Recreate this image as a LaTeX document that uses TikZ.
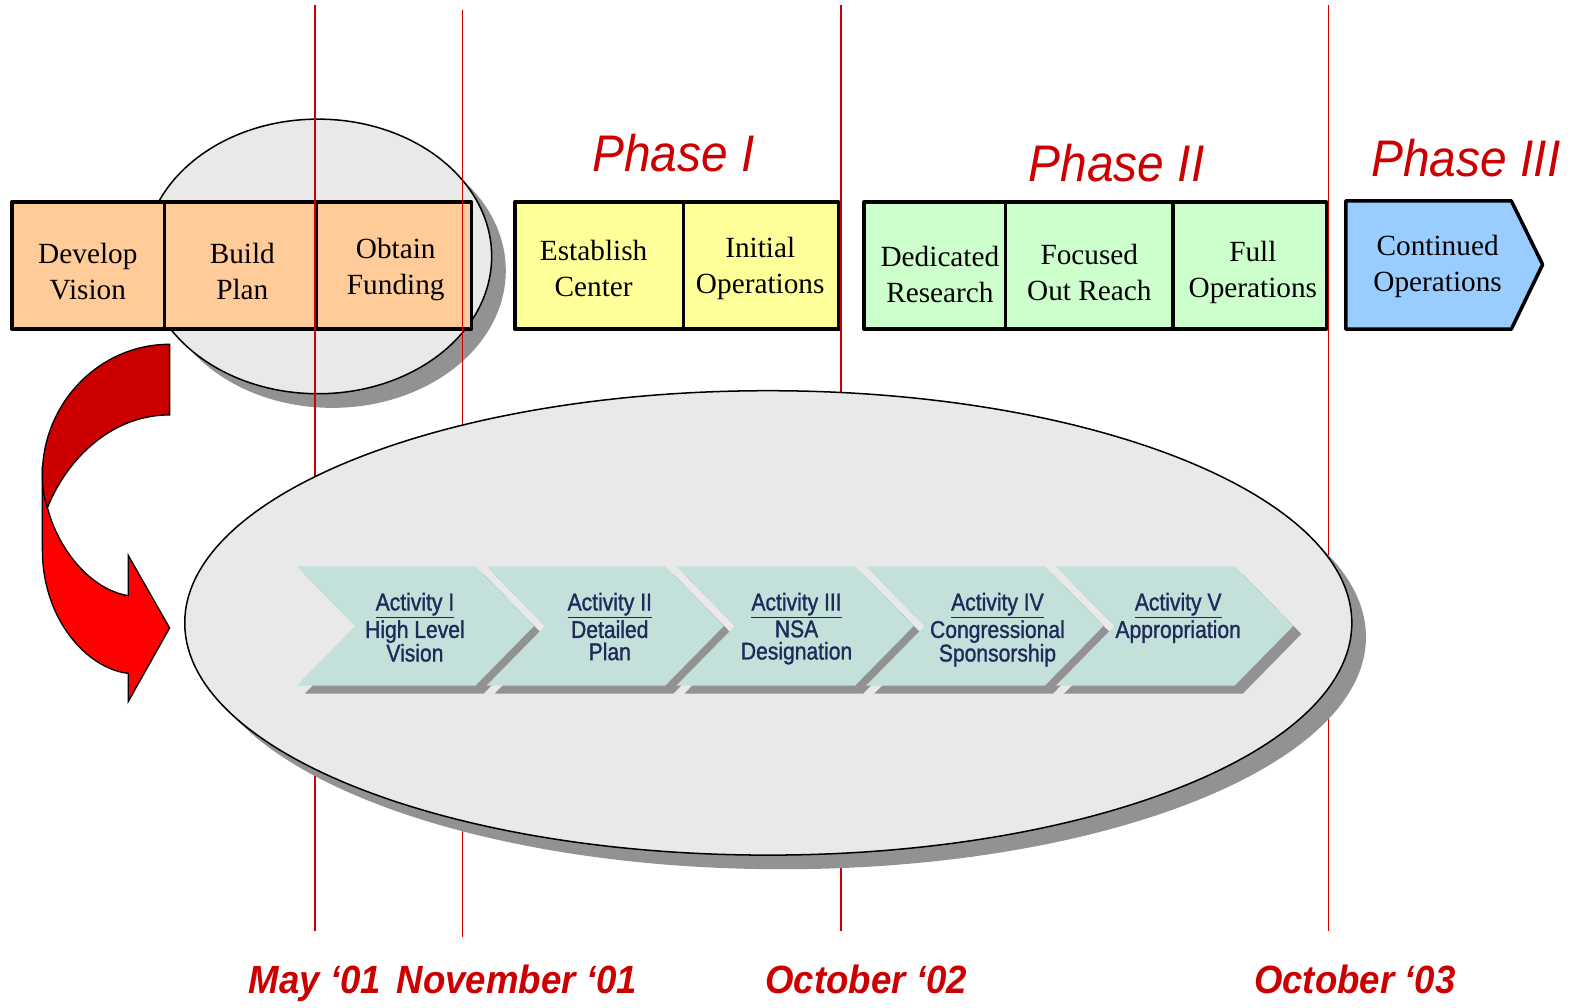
\documentclass[tikz,border=0pt]{standalone}
\usepackage{fontspec}
\setmainfont{Liberation Serif}
\newfontfamily\condsans[FakeStretch=0.93]{Liberation Sans}
\newfontfamily\narrowsans[FakeStretch=0.87,FakeBold=1.2]{Liberation Sans}
\newcommand\actul[1]{\leavevmode\vtop{\hbox{#1}\kern1.2pt\hrule height 1.7pt}}
\definecolor{lred}{HTML}{CC0000}
\definecolor{phred}{HTML}{CC0000}
\definecolor{ellfill}{HTML}{E9E9E9}
\definecolor{shad}{HTML}{929292}
\definecolor{orangefill}{HTML}{FFCC99}
\definecolor{yellowfill}{HTML}{FFFF99}
\definecolor{greenfill}{HTML}{CCFFCC}
\definecolor{bluefill}{HTML}{99CCFF}
\definecolor{chevfill}{HTML}{C4E0DA}
\definecolor{navy}{HTML}{1F2A5A}
\definecolor{darkred}{HTML}{CC0000}
\definecolor{brightred}{HTML}{FF0000}
\begin{document}
\begin{tikzpicture}[x=1pt,y=-1pt,
  phasebox/.style={draw=black,line width=3.5pt,line join=round},
  boxtext/.style={align=center,font=\fontsize{29}{35}\selectfont,inner sep=0pt},
  phaselabel/.style={text=phred,font=\fontsize{51}{60}\selectfont\condsans\itshape,inner sep=0pt},
  datelabel/.style={text=phred,font=\fontsize{39}{46}\selectfont\condsans\bfseries\itshape,inner sep=0pt,anchor=base},
  acttext/.style={text=navy,align=center,font=\fontsize{24}{22}\selectfont\narrowsans,inner sep=0pt,anchor=north},
  redline/.style={draw=lred,line width=1.6pt},
  ellipsestyle/.style={fill=ellfill,draw=black,line width=1.5pt}
]
\useasboundingbox (0,0) rectangle (1568,997.5);

% small ellipse with shadow
\fill[shad] (329,268) ellipse [x radius=172, y radius=136];
\draw[ellipsestyle] (315,254) ellipse [x radius=172, y radius=136];

% orange boxes
\draw[phasebox,fill=orangefill] (12,200) rectangle (163,326);
\draw[phasebox,fill=orangefill] (163,200) rectangle (313,326);
\draw[phasebox,fill=orangefill] (313,200) rectangle (467,326);
% yellow
\draw[phasebox,fill=yellowfill] (510,200) rectangle (677,326);
\draw[phasebox,fill=yellowfill] (677,200) rectangle (831,326);
% green
\draw[phasebox,fill=greenfill] (856,200) rectangle (996,326);
\draw[phasebox,fill=greenfill] (996,200) rectangle (1162,326);
\draw[phasebox,fill=greenfill] (1162,200) rectangle (1314,326);
% blue arrow box
\draw[phasebox,fill=bluefill] (1333,199) -- (1497,199) -- (1528,262) -- (1497,326) -- (1333,326) -- cycle;

\node[boxtext] (dv) at (87,269) {Develop\\Vision};
\node[boxtext] (bp) at (240,269) {Build\\Plan};
\node[boxtext] (of) at (392,267) {Obtain\\Funding};
\node[boxtext] (ec) at (588,266) {Establish\\Center};
\node[boxtext] (io) at (753,266) {Initial\\Operations};
\node[boxtext] (dr) at (931,272) {Dedicated\\Research};
\node[boxtext] (fo) at (1079,270) {Focused\\Out Reach};
\node[boxtext] (fu) at (1241,270) {Full\\Operations};
\node[boxtext] (co) at (1424,264) {Continued\\Operations};

% phase labels
\node[phaselabel] (p1) at (667,152) {Phase I};
\node[phaselabel] (p2) at (1106,162) {Phase II};
\node[phaselabel] (p3) at (1452,157) {Phase III};

% red vertical lines
\coordinate (l1t) at (312,5);   \coordinate (l1b) at (312,922);
\coordinate (l2t) at (458,10);  \coordinate (l2b) at (458,928);
\coordinate (l3t) at (833,5);   \coordinate (l3b) at (833,922);
\coordinate (l4t) at (1316,5);  \coordinate (l4b) at (1316,922);
\draw[redline] (l1t) -- (l1b);
\draw[redline] (l2t) -- (l2b);
\draw[redline] (l3t) -- (l3b);
\draw[redline] (l4t) -- (l4b);

% big ellipse with shadow
\fill[shad] (775,631) ellipse [x radius=578, y radius=230];
\draw[ellipsestyle] (761,617) ellipse [x radius=578, y radius=230];

% chevrons
\foreach \xo in {294,482,670,858,1046}{
  \fill[shad] (\xo+8,569) -- (\xo+185,569) -- (\xo+243,628) -- (\xo+185,687) -- (\xo+8,687) -- (\xo+66,628) -- cycle;
  \fill[chevfill] (\xo,561) -- (\xo+177,561) -- (\xo+235,620) -- (\xo+177,679) -- (\xo,679) -- (\xo+58,620) -- cycle;
}
\node[acttext] (a1) at (411,587) {\actul{Activity I}\\[1pt]High Level\\Vision};
\node[acttext] (a2) at (604,587) {\actul{Activity II}\\[1pt]Detailed\\Plan};
\node[acttext] (a3) at (789,587) {\actul{Activity III}\\[1pt]NSA\\Designation};
\node[acttext] (a4) at (988,587) {\actul{Activity IV}\\[1pt]Congressional\\Sponsorship};
\node[acttext] (a5) at (1167,587) {\actul{Activity V}\\[1pt]Appropriation};

% curved red arrow
\draw[fill=brightred,draw=black,line width=1.3pt,line join=miter]
  (42,462) -- (42,545) .. controls (42,612) and (85,662) .. (127,667)
  -- (127,695) -- (168,622) -- (127,550) -- (127,590)
  .. controls (90,584) and (58,545) .. (47,503)
  .. controls (44,490) and (42,476) .. (42,462) -- cycle;
\draw[fill=darkred,draw=black,line width=1.3pt,line join=miter]
  (168,341) .. controls (98,341) and (42,400) .. (42,470)
  .. controls (42,485) and (44,495) .. (47,503)
  .. controls (66,455) and (110,411) .. (168,411) -- cycle;

% dates
\node[datelabel] (d1) at (312,984) {May ‘01};
\node[datelabel] (d2) at (512,984) {November ‘01};
\node[datelabel] (d3) at (858,984) {October ‘02};
\node[datelabel] (d4) at (1342,984) {October ‘03};
\end{tikzpicture}
\end{document}
